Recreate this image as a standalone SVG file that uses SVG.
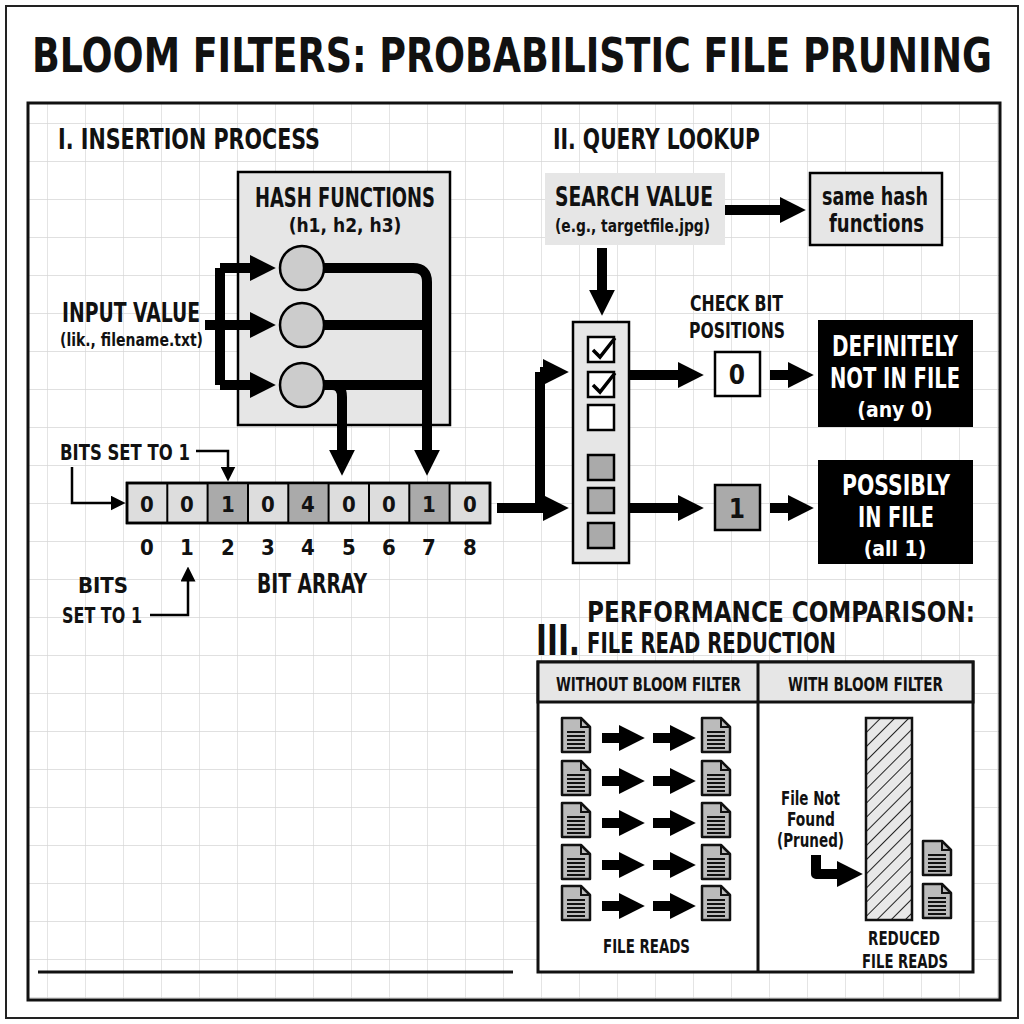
<svg xmlns="http://www.w3.org/2000/svg" width="1024" height="1024" viewBox="0 0 1024 1024">
<style>
text{font-family:"DejaVu Sans Condensed","Liberation Sans Narrow","Liberation Sans",sans-serif;font-weight:bold;fill:#111}
.c{text-anchor:middle}
.w{fill:#fff}
.ln{fill:none;stroke:#000;stroke-width:10;stroke-linejoin:round}
.th{fill:none;stroke:#000;stroke-width:2.5}
.box{stroke:#000;stroke-width:2.5}
</style>
<defs>
<pattern id="grid" width="38" height="38" patternUnits="userSpaceOnUse" x="10" y="10">
<path d="M38 0V38H0" fill="none" stroke="#d6d6d6" stroke-width="1.3"/>
</pattern>
<pattern id="hatch" width="10" height="10" patternUnits="userSpaceOnUse" patternTransform="rotate(45)">
<rect width="10" height="10" fill="#e8e8e8"/><line x1="0" y1="0" x2="0" y2="10" stroke="#222" stroke-width="2"/>
</pattern>
<marker id="ah" viewBox="0 0 10 10" refX="2" refY="5" markerWidth="2.6" markerHeight="2.6" orient="auto" markerUnits="strokeWidth">
<path d="M0 0L10 5L0 10z" fill="#000"/>
</marker>
<marker id="as" viewBox="0 0 10 10" refX="1" refY="5" markerWidth="6" markerHeight="6" orient="auto" markerUnits="strokeWidth">
<path d="M0 0L10 5L0 10z" fill="#000"/>
</marker>
<symbol id="doc" viewBox="0 0 32 38">
<path d="M2 2H21L30 11V36H2z" fill="#bbb" stroke="#111" stroke-width="2.5" stroke-linejoin="round"/>
<path d="M21 2V11H30" fill="none" stroke="#111" stroke-width="2"/>
<path d="M7 16H25M7 20H25M7 24H25M7 28H25M7 32H25" stroke="#111" stroke-width="2"/>
</symbol>
</defs>
<rect width="1024" height="1024" fill="#fff"/>
<rect x="28" y="103" width="972" height="897" fill="url(#grid)"/>
<rect x="6" y="6" width="1012" height="1012" fill="none" stroke="#222" stroke-width="2"/>
<rect x="28" y="103" width="972" height="897" fill="none" stroke="#111" stroke-width="3"/>
<line x1="38" y1="972" x2="513" y2="972" stroke="#111" stroke-width="3"/>

<text x="512" y="62.6" class="c" font-size="42" transform="scale(1,1.15)" textLength="960" lengthAdjust="spacingAndGlyphs">BLOOM FILTERS: PROBABILISTIC FILE PRUNING</text>

<g id="sec1">
<text x="58" y="149" font-size="29" textLength="262" lengthAdjust="spacingAndGlyphs">I. INSERTION PROCESS</text>
</g>
<g id="hash">
<rect x="238" y="172" width="212" height="253" fill="#e6e6e6" class="box"/>
<text x="255" y="207" font-size="26" textLength="180" lengthAdjust="spacingAndGlyphs">HASH FUNCTIONS</text>
<text x="345" y="232" class="c" font-size="19">(h1, h2, h3)</text>
<circle cx="302" cy="268" r="22" fill="#ccc" class="box"/>
<circle cx="302" cy="325" r="22" fill="#ccc" class="box"/>
<circle cx="302" cy="385" r="22" fill="#ccc" class="box"/>
</g>
<g id="input">
<text x="62" y="322" font-size="27" textLength="138" lengthAdjust="spacingAndGlyphs">INPUT VALUE</text>
<text x="60" y="346" font-size="18" textLength="143" lengthAdjust="spacingAndGlyphs">(lik., filename.txt)</text>
</g>
<g id="bitarray">
<rect x="127" y="483" width="363" height="40" fill="#ddd" class="box"/>
<rect x="207.3" y="483" width="40.3" height="40" fill="#aaa"/>
<rect x="288" y="483" width="40.3" height="40" fill="#aaa"/>
<rect x="409" y="483" width="40.3" height="40" fill="#aaa"/>
<rect x="127" y="483" width="363" height="40" fill="none" class="box"/>
<path d="M167.3 483V523M207.6 483V523M248 483V523M288.3 483V523M328.6 483V523M369 483V523M409.3 483V523M449.6 483V523" stroke="#000" stroke-width="2"/>
<g font-size="22">
<text x="147" y="512" class="c">0</text><text x="187" y="512" class="c">0</text><text x="228" y="512" class="c">1</text><text x="268" y="512" class="c">0</text><text x="308" y="512" class="c">4</text><text x="349" y="512" class="c">0</text><text x="389" y="512" class="c">0</text><text x="429" y="512" class="c">1</text><text x="470" y="512" class="c">0</text>
<text x="147" y="555" class="c">0</text><text x="187" y="555" class="c">1</text><text x="228" y="555" class="c">2</text><text x="268" y="555" class="c">3</text><text x="308" y="555" class="c">4</text><text x="349" y="555" class="c">5</text><text x="389" y="555" class="c">6</text><text x="429" y="555" class="c">7</text><text x="470" y="555" class="c">8</text>
</g>
<text x="257" y="593" font-size="26" textLength="110" lengthAdjust="spacingAndGlyphs">BIT ARRAY</text>
<text x="60" y="460" font-size="22" textLength="130" lengthAdjust="spacingAndGlyphs">BITS SET TO 1</text>
<text x="103" y="593" class="c" font-size="22">BITS</text>
<text x="62" y="623" font-size="22" textLength="80" lengthAdjust="spacingAndGlyphs">SET TO 1</text>
</g>

<g id="sec2">
<text x="553" y="149" font-size="29" textLength="207" lengthAdjust="spacingAndGlyphs">II. QUERY LOOKUP</text>
</g>
<g id="search">
<rect x="545" y="173" width="180" height="72" fill="#e6e6e6"/>
<text x="555" y="206" font-size="26" textLength="158" lengthAdjust="spacingAndGlyphs">SEARCH VALUE</text>
<text x="555" y="232" font-size="18" textLength="155" lengthAdjust="spacingAndGlyphs">(e.g., targetfile.jpg)</text>
</g>
<g id="samehash">
<rect x="810" y="173" width="132" height="72" fill="#e6e6e6" class="box"/>
<text x="822" y="205" font-size="24" textLength="106" lengthAdjust="spacingAndGlyphs">same hash</text>
<text x="829" y="232" font-size="24" textLength="95" lengthAdjust="spacingAndGlyphs">functions</text>
</g>
<g id="checklist">
<rect x="573" y="322" width="56" height="241" fill="#e6e6e6" class="box"/>
<rect x="588" y="337" width="26" height="25" fill="#fff" class="box"/>
<rect x="588" y="372" width="26" height="25" fill="#fff" class="box"/>
<rect x="588" y="405" width="26" height="25" fill="#fff" class="box"/>
<rect x="588" y="455" width="26" height="25" fill="#aaa" class="box"/>
<rect x="588" y="488" width="26" height="25" fill="#aaa" class="box"/>
<rect x="588" y="523" width="26" height="25" fill="#aaa" class="box"/>
<path d="M593 350L600 357L615 338M593 385L600 392L615 373" fill="none" stroke="#000" stroke-width="3.5"/>
</g>
<g id="checkbit">
<text x="690" y="311" font-size="22" textLength="93" lengthAdjust="spacingAndGlyphs">CHECK BIT</text>
<text x="689" y="338" font-size="22" textLength="96" lengthAdjust="spacingAndGlyphs">POSITIONS</text>
</g>
<g id="zero">
<rect x="715" y="352" width="45" height="44" fill="#fff" class="box"/>
<text x="737" y="384" class="c" font-size="26">0</text>
</g>
<g id="one">
<rect x="715" y="485" width="45" height="45" fill="#aaa" class="box"/>
<text x="737" y="518" class="c" font-size="26">1</text>
</g>
<g id="notinfile">
<rect x="818" y="320" width="155" height="107" fill="#000"/>
<text x="832" y="356" class="w" font-size="28" textLength="126" lengthAdjust="spacingAndGlyphs">DEFINITELY</text>
<text x="830" y="388" class="w" font-size="28" textLength="130" lengthAdjust="spacingAndGlyphs">NOT IN FILE</text>
<text x="895" y="417" class="c w" font-size="21" font-weight="normal">(any 0)</text>
</g>
<g id="possibly">
<rect x="818" y="460" width="155" height="104" fill="#000"/>
<text x="842" y="495" class="w" font-size="28" textLength="108" lengthAdjust="spacingAndGlyphs">POSSIBLY</text>
<text x="858" y="527" class="w" font-size="28" textLength="76" lengthAdjust="spacingAndGlyphs">IN FILE</text>
<text x="895" y="556" class="c w" font-size="21" font-weight="normal">(all 1)</text>
</g>

<g id="sec3">
<text x="536" y="655" font-size="42" textLength="44" lengthAdjust="spacingAndGlyphs">III.</text>
<text x="587" y="622" font-size="28" textLength="388" lengthAdjust="spacingAndGlyphs">PERFORMANCE COMPARISON:</text>
<text x="587" y="653" font-size="28" textLength="249" lengthAdjust="spacingAndGlyphs">FILE READ REDUCTION</text>
<rect x="538" y="662" width="435" height="310" fill="#fff" stroke="#111" stroke-width="3"/>
<rect x="538" y="662" width="435" height="40" fill="#e6e6e6" stroke="#111" stroke-width="3"/>
<line x1="758" y1="662" x2="758" y2="972" stroke="#111" stroke-width="3"/>
<text x="556" y="691" font-size="19" textLength="185" lengthAdjust="spacingAndGlyphs">WITHOUT BLOOM FILTER</text>
<text x="788" y="691" font-size="19" textLength="155" lengthAdjust="spacingAndGlyphs">WITH BLOOM FILTER</text>
<g id="docs">
<use href="#doc" x="560" y="716" width="32" height="38"/><use href="#doc" x="700" y="716" width="32" height="38"/>
<use href="#doc" x="560" y="759" width="32" height="38"/><use href="#doc" x="700" y="759" width="32" height="38"/>
<use href="#doc" x="560" y="801" width="32" height="38"/><use href="#doc" x="700" y="801" width="32" height="38"/>
<use href="#doc" x="560" y="843" width="32" height="38"/><use href="#doc" x="700" y="843" width="32" height="38"/>
<use href="#doc" x="560" y="884" width="32" height="38"/><use href="#doc" x="700" y="884" width="32" height="38"/>
<use href="#doc" x="921" y="839" width="32" height="38"/><use href="#doc" x="921" y="882" width="32" height="38"/>
</g>
<g class="ln" stroke-width="9" stroke-linejoin="miter">
<path d="M602 738H624" marker-end="url(#ah)"/><path d="M653 738H675" marker-end="url(#ah)"/>
<path d="M602 781H624" marker-end="url(#ah)"/><path d="M653 781H675" marker-end="url(#ah)"/>
<path d="M602 823H624" marker-end="url(#ah)"/><path d="M653 823H675" marker-end="url(#ah)"/>
<path d="M602 865H624" marker-end="url(#ah)"/><path d="M653 865H675" marker-end="url(#ah)"/>
<path d="M602 906H624" marker-end="url(#ah)"/><path d="M653 906H675" marker-end="url(#ah)"/>
</g>
<text x="603" y="953" font-size="20" textLength="87" lengthAdjust="spacingAndGlyphs">FILE READS</text>
<rect x="866" y="718" width="46" height="202" fill="url(#hatch)" stroke="#111" stroke-width="2.5"/>
<text x="781" y="805" font-size="19" textLength="59" lengthAdjust="spacingAndGlyphs">File Not</text>
<text x="811" y="826" class="c" font-size="19" textLength="48" lengthAdjust="spacingAndGlyphs">Found</text>
<text x="777" y="847" font-size="19" textLength="67" lengthAdjust="spacingAndGlyphs">(Pruned)</text>
<path d="M816 855V874H842" class="ln" stroke-linejoin="miter" marker-end="url(#ah)" stroke-width="9"/>
<text x="868" y="945" font-size="20" textLength="72" lengthAdjust="spacingAndGlyphs">REDUCED</text>
<text x="862" y="968" font-size="20" textLength="86" lengthAdjust="spacingAndGlyphs">FILE READS</text>
</g>

<g id="connectors">
<path d="M205 325H220V268M220 325V385" class="ln" stroke-linejoin="miter"/>
<path d="M220 268H255" class="ln" marker-end="url(#ah)"/>
<path d="M205 325H255" class="ln" marker-end="url(#ah)"/>
<path d="M220 385H255" class="ln" marker-end="url(#ah)"/>
<path d="M324 268H413Q427 268 427 282V455" class="ln" marker-end="url(#ah)"/>
<path d="M324 325H427" class="ln"/>
<path d="M324 385H427" class="ln"/>
<path d="M324 385H332Q342 385 342 397V455" class="ln" marker-end="url(#ah)"/>
<path d="M196 451H228V468" class="th" marker-end="url(#as)"/>
<path d="M72 467V503H112" class="th" marker-end="url(#as)"/>
<path d="M150 615H188V580" class="th" marker-end="url(#as)"/>
<path d="M497 508H540V372" class="ln" stroke-linejoin="miter"/>
<path d="M540 508H548" class="ln" marker-end="url(#ah)"/>
<path d="M540 372H548" class="ln" marker-end="url(#ah)"/>
<path d="M725 210H785" class="ln" marker-end="url(#ah)"/>
<path d="M602 248V295" class="ln" marker-end="url(#ah)"/>
<path d="M630 375H683" class="ln" marker-end="url(#ah)"/>
<path d="M630 508H683" class="ln" marker-end="url(#ah)"/>
<path d="M770 375H793" class="ln" marker-end="url(#ah)"/>
<path d="M770 508H793" class="ln" marker-end="url(#ah)"/>
</g>
</svg>
